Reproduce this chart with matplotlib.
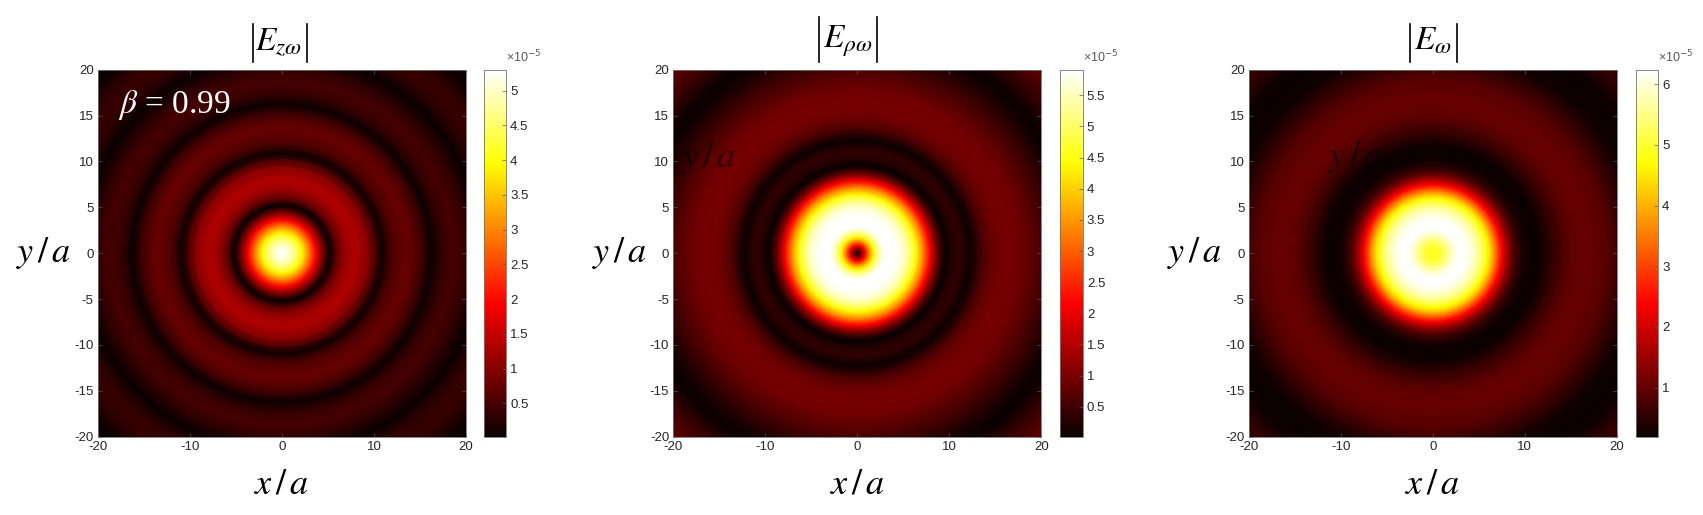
import numpy as np
import matplotlib
matplotlib.use("Agg")
import matplotlib.pyplot as plt
from matplotlib.lines import Line2D

plt.rcParams["font.family"] = ["Liberation Sans", "DejaVu Sans"]
plt.rcParams["mathtext.fontset"] = "stix"
plt.rcParams["axes.unicode_minus"] = False

W, H = 1703, 515

# radial profiles, r in units of a, field in 1e-5
RADIUS_Z = [0, .25, .5, .75, 1, 1.25, 1.5, 1.75, 2, 2.25, 2.5, 2.75, 3, 3.25, 3.5, 3.75, 4, 4.25, 4.5, 4.75, 5, 5.25,
            5.5, 5.75, 6, 6.5, 7, 7.5, 8, 8.5, 9.5, 10.3, 10.9, 11.4, 12, 13, 13.7, 14.5, 15.5, 16.2, 16.8, 17.5, 18.6, 19.5,
            20.5, 21.7, 22.3, 23, 24, 25, 26, 27, 27.6, 29]
FIELD_Z = [5.3, 5.27, 5.2, 5.08, 4.95, 4.78, 4.6, 4.38, 4.15, 3.86, 3.55, 3.22, 2.9, 2.55, 2.2, 1.85, 1.5, 1.17, .85, .55, .25, .03,
           .25, .5, .7, .98, 1.16, 1.27, 1.3, 1.26, .95, .45, .05, .32, .55, .72, .75, .65, .35, .05, .22, .38, .5, .42,
           .25, .04, .15, .28, .38, .36, .24, .08, .03, .15]

RADIUS_RHO = [0, .25, .5, .75, 1, 1.25, 1.5, 1.75, 2, 2.25, 2.5, 2.75, 3, 3.5, 4, 4.5, 4.85, 5.15, 5.45, 5.75, 6, 6.3, 6.55, 6.8,
              7.1, 7.35, 7.6, 7.85, 8.1, 8.3, 8.5, 8.75, 9, 9.2, 9.45, 9.7,
              10.2, 11, 11.6, 12.3, 13, 13.6, 14.5, 15.5, 17, 18, 19, 20, 21, 22, 23, 23.7, 24.5, 25.5, 27, 29]
FIELD_RHO = [.03, .6, 1.2, 1.85, 2.5, 3.15, 3.75, 4.3, 4.8, 5.2, 5.5, 5.75, 5.9, 5.95, 5.9, 5.8, 5.7, 5.55, 5.35, 5.1, 4.85, 4.55, 4.2, 3.85,
             3.45, 3.05, 2.65, 2.25, 1.85, 1.5, 1.15, .85, .55, .35, .12, .03,
             .22, .38, .28, .04, .32, .58, .83, .95, .97, .88, .75, .58, .42, .25, .1, .03, .15, .35, .6, .85]

RADIUS_OMEGA = [0, .5, 1, 1.5, 2, 2.5, 3, 3.5, 4, 4.5, 5, 5.25, 5.5, 5.75, 6, 6.25, 6.5, 6.75, 7, 7.25, 7.5, 7.75, 8, 8.25, 8.5, 8.75,
                9, 9.5, 10, 10.6, 11.2, 12, 13, 14, 15, 16.3, 17.5, 19, 20, 21, 22, 23, 24.3, 25.5, 27, 29]
FIELD_OMEGA = [4.85, 4.92, 5.1, 5.45, 5.85, 6.15, 6.24, 6.22, 6.1, 5.9, 5.6, 5.4, 5.2, 4.95, 4.65, 4.35, 4.0, 3.6, 3.2, 2.8, 2.4, 2.05, 1.7, 1.4, 1.15, .92,
               .72, .45, .3, .22, .2, .3, .55, .78, .95, 1.02, 1.0, .88, .7, .5, .33, .22, .19, .28, .5, .7]

TITLES = [r"$E_{z\omega}$", r"$E_{\rho\omega}$", r"$E_{\omega}$"]
VMIN = [0.02, 0.02, 0.19]
VMAX = [5.30, 5.91, 6.24]
CB_TICKS = [
    [.5, 1, 1.5, 2, 2.5, 3, 3.5, 4, 4.5, 5],
    [.5, 1, 1.5, 2, 2.5, 3, 3.5, 4, 4.5, 5, 5.5],
    [1, 2, 3, 4, 5, 6],
]
AXIS_TICKS_X = [-20, -10, 0, 10, 20]
AXIS_TICKS_Y = [-20, -15, -10, -5, 0, 5, 10, 15, 20]

# left, right of the image and of the colorbar, in pixels
PANEL_PX = [(97.8, 466, 484, 506), (673.3, 1041.3, 1060, 1082.7), (1248.8, 1616.8, 1635.5, 1658)]
TOP_PX, BOTTOM_PX = 69.7, 436.7
GHOST_LABEL = [None, (-16.2, 10.4), (-8.4, 10.5)]
# the |...| bars of the titles: x left, x right, y top, y bottom in pixels
BARS_PX = [(253, 307, 24, 62), (818.5, 876.5, 17, 62), (1410, 1457, 24, 62)]
TITLE_PAD = [14.4, 15.8, 14.4]
TITLE_X = [0.49, 0.475, 0.5]


def px_axes(fig, left, right):
    return fig.add_axes([left / W, 1 - BOTTOM_PX / H, (right - left) / W, (BOTTOM_PX - TOP_PX) / H])


def draw_panel(fig, i, radius, field):
    left, right, cb_left, cb_right = PANEL_PX[i]
    ax = px_axes(fig, left, right)
    cax = px_axes(fig, cb_left, cb_right)

    # rings: repeat the profile round the circle and let gouraud shade between samples
    theta = np.linspace(0, 2 * np.pi, 361)
    r = np.asarray(radius, dtype=float)
    X = np.outer(r, np.cos(theta))
    Y = np.outer(r, np.sin(theta))
    C = np.repeat(np.asarray(field)[:, None], theta.size, axis=1)
    mesh = ax.pcolormesh(X, Y, C, cmap="hot", vmin=VMIN[i], vmax=VMAX[i], shading="gouraud", rasterized=True)

    ax.set_xlim(-20, 20)
    ax.set_ylim(-20, 20)
    ax.set_xticks(AXIS_TICKS_X)
    ax.set_yticks(AXIS_TICKS_Y)
    ax.tick_params(direction="in", length=2.6, width=0.5, top=True, right=True, color="0.35",
                   labelsize=9.5, labelcolor="0.15", pad=3)
    for s in ax.spines.values():
        s.set_color("0.45")
        s.set_linewidth(0.6)

    ax.set_title(TITLES[i], fontsize=24, pad=TITLE_PAD[i], x=TITLE_X[i])
    ax.set_xlabel(r"$x\,/\,a$", fontsize=26, labelpad=9.5)
    ax.set_ylabel(r"$y\,/\,a$", fontsize=26, rotation=0, labelpad=22, va="center")

    x0, x1, y0, y1 = BARS_PX[i]
    for bx in (x0, x1):
        fig.add_artist(Line2D([bx / W, bx / W], [1 - y0 / H, 1 - y1 / H], color="black", lw=1.2))

    cb = fig.colorbar(mesh, cax=cax)
    cb.set_ticks(CB_TICKS[i])
    cb.set_ticklabels([f"{t:g}" for t in CB_TICKS[i]])
    cb.ax.tick_params(direction="in", length=2.6, width=0.5, color="0.35", labelsize=9.5, labelcolor="0.15", pad=3)
    cb.outline.set_edgecolor("0.45")
    cb.outline.set_linewidth(0.6)
    cax.text(1.0, 1.012, "×10$^{-5}$", transform=cax.transAxes, fontsize=9, color="0.35",
             ha="left", va="bottom", math_fontfamily="dejavusans")

    if GHOST_LABEL[i] is not None:
        gx, gy = GHOST_LABEL[i]
        ax.text(gx, gy, r"$y\,/\,a$", fontsize=26, color="black", alpha=0.6, ha="center", va="center")
    return ax


fig = plt.figure(figsize=(W / 100, H / 100), dpi=100)
ax_z = draw_panel(fig, 0, RADIUS_Z, FIELD_Z)
draw_panel(fig, 1, RADIUS_RHO, FIELD_RHO)
draw_panel(fig, 2, RADIUS_OMEGA, FIELD_OMEGA)
ax_z.text(-17.8, 16.2, r"$\beta$ = 0.99", color="white", fontsize=24, family="Liberation Serif",
          ha="left", va="center", math_fontfamily="stix")
fig.savefig("out.png", dpi=100)
